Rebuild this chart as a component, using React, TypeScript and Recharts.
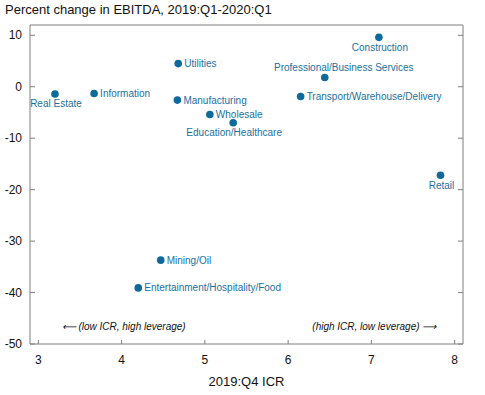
import React from "react";
import {
  ScatterChart,
  Scatter,
  XAxis,
  YAxis,
  ReferenceArea,
} from "recharts";

// Industry names, 2019:Q4 ICR, and EBITDA change (%)
const industries = [
  "Real Estate",
  "Information",
  "Utilities",
  "Manufacturing",
  "Wholesale",
  "Education/Healthcare",
  "Construction",
  "Professional/Business Services",
  "Transport/Warehouse/Delivery",
  "Retail",
  "Mining/Oil",
  "Entertainment/Hospitality/Food",
];
const icr = [3.2, 3.67, 4.68, 4.67, 5.06, 5.34, 7.09, 6.44, 6.15, 7.83, 4.47, 4.2];
const ebitdaChange = [-1.4, -1.3, 4.5, -2.6, -5.4, -7.0, 9.6, 1.8, -1.9, -17.2, -33.7, -39.1];
// where each label sits relative to its dot
const labelSide = [
  "bottom", "right", "right", "right", "right", "bottom",
  "bottom", "top", "right", "bottom", "right", "right",
];

const xTicks = [3, 4, 5, 6, 7, 8];
const yTicks = [-50, -40, -30, -20, -10, 0, 10];

const noteText = ["\u27F5 (low ICR, high leverage)", "(high ICR, low leverage) \u27F6"];
const noteX = [3.28, 7.78];
const noteY = [-46.6, -46.6];

const points = industries.map((name, i) => ({
  name,
  x: icr[i],
  y: ebitdaChange[i],
  side: labelSide[i],
}));

const notes = noteText.map((text, i) => ({
  text,
  x: noteX[i],
  y: noteY[i],
  anchor: i === 0 ? "start" : "end",
}));

const BLUE = "#0e6a9b";
const LABEL = "#1b70a0";
const FRAME = "#7f7f7f";
const FONT = "'Liberation Sans', Arial, sans-serif";

const renderXTick = (props: any) => {
  const { x, y, payload } = props;
  return (
    <g key={`xt-${payload.value}`}>
      <line x1={x} y1={y} x2={x} y2={y - 4} stroke={FRAME} />
      <text x={x} y={y + 20} textAnchor="middle" fontSize={12} fill="#111" fontFamily={FONT}>
        {payload.value}
      </text>
    </g>
  );
};

const renderYTickLeft = (props: any) => {
  const { x, y, payload } = props;
  return (
    <g key={`yl-${payload.value}`}>
      <line x1={x} y1={y} x2={x + 5} y2={y} stroke={FRAME} />
      <text x={x - 8} y={y + 4} textAnchor="end" fontSize={12} fill="#111" fontFamily={FONT}>
        {payload.value}
      </text>
    </g>
  );
};

const renderYTickRight = (props: any) => {
  const { x, y, payload } = props;
  return <line key={`yr-${payload.value}`} x1={x} y1={y} x2={x - 5} y2={y} stroke={FRAME} />;
};

const Dot = (props: any) => {
  const { cx, cy, payload } = props;
  let tx = cx + 6;
  let ty = cy + 3.5;
  let anchor = "start";
  if (payload.side === "bottom") {
    tx = cx + 1;
    ty = cy + 13.5;
    anchor = "middle";
  } else if (payload.side === "top") {
    tx = cx + 19;
    ty = cy - 6.5;
    anchor = "middle";
  }
  return (
    <g>
      <circle cx={cx} cy={cy} r={3.8} fill={BLUE} />
      <text x={tx} y={ty} textAnchor={anchor} fontSize={10} fill={LABEL} fontFamily={FONT}>
        {payload.name}
      </text>
    </g>
  );
};

const Note = (props: any) => {
  const { cx, cy, payload } = props;
  return (
    <text
      x={cx}
      y={cy + 3.5}
      textAnchor={payload.anchor}
      fontSize={10}
      fontStyle="italic"
      fill="#111"
      fontFamily={FONT}
    >
      {payload.text}
    </text>
  );
};

export default function App() {
  return (
    <div
      style={{
        position: "absolute",
        left: 0,
        top: 0,
        width: 485,
        height: 395,
        background: "#fff",
        fontFamily: FONT,
      }}
    >
      <div style={{ position: "absolute", left: 5, top: 2, fontSize: 13, color: "#111" }}>
        Percent change in EBITDA, 2019:Q1-2020:Q1
      </div>
      <div
        style={{
          position: "absolute",
          left: 30,
          width: 433,
          top: 374,
          textAlign: "center",
          fontSize: 13,
          color: "#111",
        }}
      >
        2019:Q4 ICR
      </div>
      <ScatterChart
        width={485}
        height={395}
        margin={{ top: 25, left: 0, right: 0, bottom: 0 }}
      >
        <XAxis
          type="number"
          dataKey="x"
          domain={[2.9, 8.1]}
          ticks={xTicks}
          axisLine={false}
          tickLine={false}
          tickSize={0}
          tickMargin={0}
          height={51}
          tick={renderXTick}
          allowDataOverflow
        />
        <YAxis
          type="number"
          dataKey="y"
          domain={[-50, 12]}
          ticks={yTicks}
          axisLine={false}
          tickLine={false}
          tickSize={0}
          tickMargin={0}
          width={30}
          tick={renderYTickLeft}
          allowDataOverflow
        />
        <YAxis
          yAxisId="right"
          orientation="right"
          type="number"
          domain={[-50, 12]}
          ticks={yTicks}
          axisLine={false}
          tickLine={false}
          tickSize={0}
          tickMargin={0}
          width={22}
          tick={renderYTickRight}
          allowDataOverflow
        />
        <ReferenceArea
          x1={2.9}
          x2={8.1}
          y1={-50}
          y2={12}
          fill="none"
          stroke={FRAME}
          strokeWidth={1}
        />
        <Scatter data={notes} shape={<Note />} isAnimationActive={false} />
        <Scatter data={points} shape={<Dot />} isAnimationActive={false} />
      </ScatterChart>
    </div>
  );
}
